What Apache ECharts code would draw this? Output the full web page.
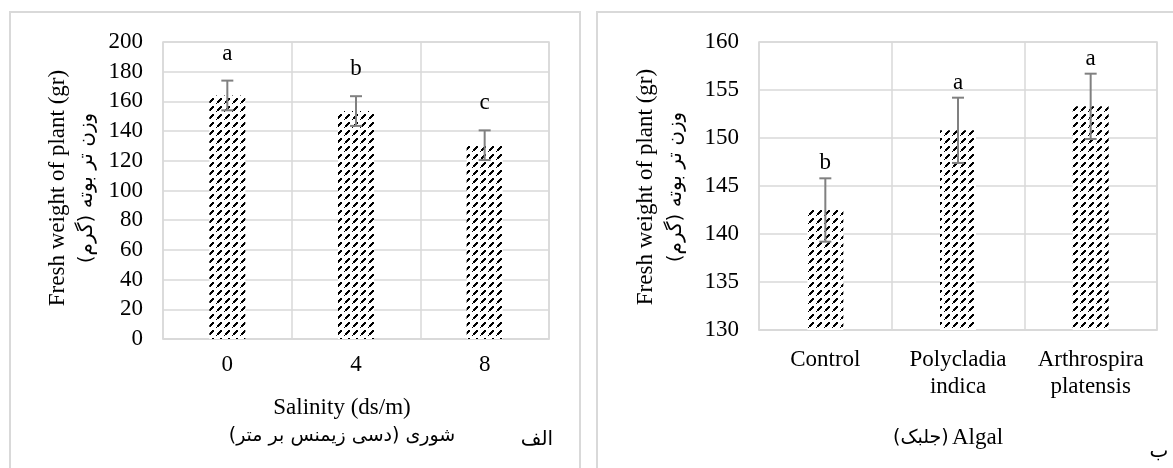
<!DOCTYPE html>
<html>
<head>
<meta charset="utf-8">
<script src="https://cdn.jsdelivr.net/npm/echarts@6/dist/echarts.min.js"></script>
<style>
  html, body { margin: 0; padding: 0; background: #fff; }
  #chart { width: 1173px; height: 468px; }
</style>
</head>
<body>
<div id="chart"></div>
<script>
// Panel A: salinity levels
const salinityLevels = ['0', '4', '8'];
const salinityMeans = [164, 153.5, 130.5];
const salinityErrors = [10, 10, 10];
const salinityLetters = ['a', 'b', 'c'];

// Panel B: algal treatments
const algalTypes = ['Control', 'Polycladia\nindica', 'Arthrospira\nplatensis'];
const algalMeans = [142.5, 150.8, 153.3];
const algalErrors = [3.3, 3.4, 3.4];
const algalLetters = ['b', 'a', 'a'];

const SERIF = '"Liberation Serif", "Times New Roman", serif';
const ARABIC = '"DejaVu Sans", sans-serif';
const GRID_COLOR = '#d9d9d9';
const RLM = '\u200F';

// dashed upward-diagonal hatch used to fill the bars
function hatchPattern() {
  const c = document.createElement('canvas');
  c.width = 8; c.height = 8;
  const g = c.getContext('2d');
  g.fillStyle = '#fff';
  g.fillRect(0, 0, 8, 8);
  g.fillStyle = '#000';
  for (let i = 0; i < 4; i++) g.fillRect(i + 1, 5 - i, 2, 2);
  g.fillRect(0, 7, 1, 1);
  return { image: c, repeat: 'repeat' };
}
const hatch = hatchPattern();

function errorBars(gridIndex, means, errors, letters, letterGap) {
  return {
    type: 'custom',
    xAxisIndex: gridIndex,
    yAxisIndex: gridIndex,
    z: 5,
    encode: { x: 0, y: 1 },
    data: means.map((m, i) => [i, m, errors[i]]),
    renderItem(params, api) {
      const i = api.value(0), m = api.value(1), e = api.value(2);
      const top = api.coord([i, m + e]);
      const bot = api.coord([i, m - e]);
      const x = top[0], cap = 6;
      const st = { stroke: '#808080', lineWidth: 2 };
      return {
        type: 'group',
        children: [
          { type: 'line', shape: { x1: x, y1: top[1], x2: x, y2: bot[1] }, style: st },
          { type: 'line', shape: { x1: x - cap, y1: top[1], x2: x + cap, y2: top[1] }, style: st },
          { type: 'line', shape: { x1: x - cap, y1: bot[1], x2: x + cap, y2: bot[1] }, style: st },
          {
            type: 'text', x: x, y: top[1] - letterGap,
            style: {
              text: letters[params.dataIndex], font: '23px ' + SERIF, fill: '#000',
              align: 'center', verticalAlign: 'middle',
              textAlign: 'center', textVerticalAlign: 'middle'
            }
          }
        ]
      };
    }
  };
}

function catAxis(gridIndex, data, margin) {
  return {
    type: 'category', gridIndex, data,
    axisLine: { lineStyle: { color: GRID_COLOR, width: 1.5 } },
    axisTick: { show: false },
    axisLabel: { interval: 0, color: '#000', fontFamily: SERIF, fontSize: 23, lineHeight: 27, margin },
    splitLine: { show: true, interval: 0, lineStyle: { color: GRID_COLOR, width: 1.5 } }
  };
}

function valAxis(gridIndex, min, max, interval) {
  return {
    type: 'value', gridIndex, min, max, interval,
    axisLine: { show: false },
    axisTick: { show: false },
    axisLabel: { color: '#000', fontFamily: SERIF, fontSize: 23, margin: 20 },
    splitLine: { lineStyle: { color: GRID_COLOR, width: 1.5 } }
  };
}

function txt(x, y, text, font, rotation) {
  return {
    type: 'text', x, y, rotation: rotation || 0, silent: true,
    style: {
      text, font, fill: '#000',
      align: 'center', verticalAlign: 'middle',
      textAlign: 'center', textVerticalAlign: 'middle'
    }
  };
}

const chart = echarts.init(document.getElementById('chart'), null, { renderer: 'canvas' });
chart.setOption({
  animation: false,
  backgroundColor: '#fff',
  grid: [
    { left: 163, top: 42, width: 386, height: 297, show: true, borderColor: GRID_COLOR, borderWidth: 1.5 },
    { left: 759, top: 42, width: 398, height: 288, show: true, borderColor: GRID_COLOR, borderWidth: 1.5 }
  ],
  xAxis: [catAxis(0, salinityLevels, 12), catAxis(1, algalTypes, 16)],
  yAxis: [valAxis(0, 0, 200, 20), valAxis(1, 130, 160, 5)],
  series: [
    {
      type: 'bar', xAxisIndex: 0, yAxisIndex: 0, barWidth: 36,
      data: salinityMeans, itemStyle: { color: hatch }
    },
    {
      type: 'bar', xAxisIndex: 1, yAxisIndex: 1, barWidth: 36, clip: true,
      data: algalMeans, itemStyle: { color: hatch }
    },
    errorBars(0, salinityMeans, salinityErrors, salinityLetters, 27),
    errorBars(1, algalMeans, algalErrors, algalLetters, 15)
  ],
  graphic: [
    { type: 'rect', silent: true, z: -10, shape: { x: 10, y: 12, width: 570, height: 480 },
      style: { fill: 'none', stroke: GRID_COLOR, lineWidth: 2 } },
    { type: 'rect', silent: true, z: -10, shape: { x: 597, y: 12, width: 640, height: 480 },
      style: { fill: 'none', stroke: GRID_COLOR, lineWidth: 2 } },

    // panel A titles
    txt(58, 188, 'Fresh weight of plant (gr)', '23px ' + SERIF, Math.PI / 2),
    txt(87, 188, 'وزن تر بوته (گرم)' + RLM, '20px ' + ARABIC, Math.PI / 2),
    txt(342, 408, 'Salinity (ds/m)', '23px ' + SERIF),
    txt(342, 436, 'شوری (دسی زیمنس بر متر)' + RLM, '19px ' + ARABIC),
    txt(537, 440, 'الف', '20px ' + ARABIC),

    // panel B titles
    txt(646, 187, 'Fresh weight of plant (gr)', '23px ' + SERIF, Math.PI / 2),
    txt(676, 187, 'وزن تر بوته (گرم)' + RLM, '20px ' + ARABIC, Math.PI / 2),
    {
      type: 'text', x: 948, y: 438, silent: true,
      style: {
        text: '{fa|(جلبک)} {en|Algal}',
        align: 'center', verticalAlign: 'middle',
        textAlign: 'center', textVerticalAlign: 'middle',
        rich: {
          fa: { font: '19px ' + ARABIC, fill: '#000' },
          en: { font: '23px ' + SERIF, fill: '#000' }
        }
      }
    },
    txt(1159, 452, 'ب', '20px ' + ARABIC)
  ]
});
</script>
</body>
</html>
